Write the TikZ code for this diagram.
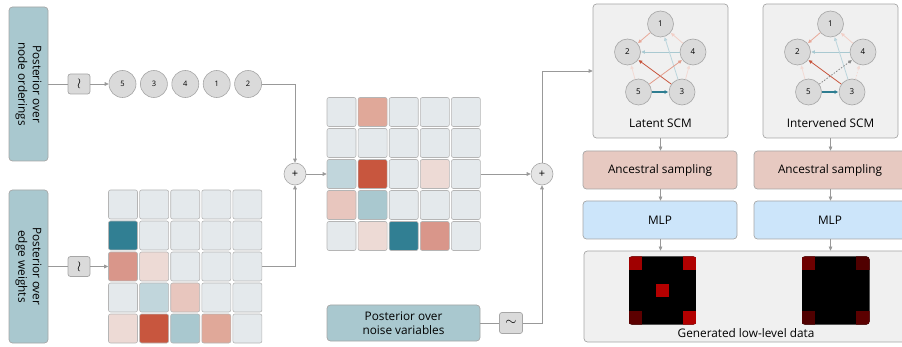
\documentclass[tikz,border=0pt]{standalone}
\usepackage{fontspec}
\setmainfont{Open Sans}
\usetikzlibrary{arrows.meta}
\definecolor{linec}{HTML}{999999}
\definecolor{boxb}{HTML}{A6A6A6}
\definecolor{postc}{HTML}{A9C8CF}
\definecolor{nodec}{HTML}{DADADA}
\definecolor{panelc}{HTML}{F0F0F0}
\definecolor{ancc}{HTML}{E7C9C1}
\definecolor{mlpc}{HTML}{CCE5FA}
\definecolor{cellb}{HTML}{B5B5B5}
\definecolor{cL}{HTML}{E4E9EC}
\definecolor{cT}{HTML}{317F93}
\definecolor{cS}{HTML}{D9968A}
\definecolor{cP}{HTML}{EDDAD5}
\definecolor{cB}{HTML}{C1D6DC}
\definecolor{cM}{HTML}{E8C6BE}
\definecolor{cR}{HTML}{C8563E}
\definecolor{cG}{HTML}{A9C8CF}
\definecolor{cQ}{HTML}{E0A899}
\definecolor{eA}{HTML}{E8A898}
\definecolor{eB}{HTML}{F2CFC7}
\definecolor{eC}{HTML}{A9C9D1}
\definecolor{eD}{HTML}{BBD5DC}
\definecolor{eE}{HTML}{C8553D}
\definecolor{eF}{HTML}{E29C8B}
\definecolor{eG}{HTML}{F3DAD4}
\definecolor{eH}{HTML}{2E7D91}
\definecolor{eI}{HTML}{888888}
\begin{document}
\begin{tikzpicture}[x=1pt,y=-1pt,
  conn/.style={draw=linec, line width=0.7pt},
  arr/.style={conn, -{Triangle[length=4pt,width=3.6pt]}},
  post/.style={draw=boxb, fill=postc, rounded corners=3.5pt, line width=0.7pt, inner sep=0pt},
  tbox/.style={draw=boxb, fill=nodec, rounded corners=2.5pt, line width=0.7pt, minimum width=22pt, minimum height=20pt, inner sep=0pt, font=\fontsize{14}{14}\selectfont},
  ordc/.style={circle, draw=boxb, fill=nodec, line width=0.6pt, minimum size=27pt, inner sep=0pt, font=\fontsize{7.5}{8}\selectfont},
  plusc/.style={circle, draw=boxb, fill=nodec!70!white, line width=0.6pt, minimum size=22pt, inner sep=0pt, font=\fontsize{11}{11}\selectfont},
  cell/.style={draw=cellb, line width=0.6pt, rounded corners=2pt, minimum size=29pt, inner sep=0pt},
  gnode/.style={circle, draw=boxb, fill=nodec, line width=0.6pt, minimum size=26pt, inner sep=0pt, font=\fontsize{8}{8}\selectfont},
  panel/.style={draw=boxb, fill=panelc, rounded corners=3.5pt, line width=0.7pt, inner sep=0pt},
  ged/.style={line width=0.8pt, -{Triangle[length=3.6pt,width=3.4pt]}, shorten >=0.5pt},
  lbl/.style={font=\fontsize{11.8}{14.5}\selectfont, align=center, inner sep=0pt},
]
\useasboundingbox (0,0) rectangle (902,347);

% ---- left posterior boxes
\node[post, minimum width=39pt, minimum height=154pt] (pno) at (28.5,84) {};
\node[lbl, rotate=-90] (pnot) at (pno.center) {Posterior over\\node orderings};
\node[post, minimum width=39pt, minimum height=153pt] (pew) at (28.5,266.5) {};
\node[lbl, rotate=-90] (pewt) at (pew.center) {Posterior over\\edge weights};

\node[tbox] (t1) at (79,84) {$\wr$};
\node[tbox] (t2) at (79,266.5) {$\wr$};

% ---- ordering circles
\foreach \n [count=\i] in {5,3,4,1,2}
  \node[ordc] (o\n) at ({122.5+31.4*(\i-1)},84) {\n};

\draw[conn] (pno) -- (t1);
\draw[arr] (t1) -- (o5);
\draw[conn] (pew) -- (t2);

% ---- matrices
\foreach \row [count=\r] in {{L,L,L,L,L},{T,L,L,L,L},{S,P,L,L,L},{L,B,M,L,L},{P,R,G,Q,L}}
  \foreach \c [count=\k] in \row
    \node[cell, fill=c\c] (ma-\r-\k) at ({123+31.1*(\k-1)},{204.5+31*(\r-1)}) {};
\foreach \row [count=\r] in {{L,Q,L,L,L},{L,L,L,L,L},{B,R,L,P,L},{M,G,L,L,L},{L,P,T,S,L}}
  \foreach \c [count=\k] in \row
    \node[cell, fill=c\c] (mb-\r-\k) at ({341.5+31.1*(\k-1)},{112+31*(\r-1)}) {};

\draw[arr] (t2) -- (ma-3-1);

\node[plusc] (p1) at (295,174) {+};
\node[plusc] (p2) at (542,174) {+};

\draw[arr] (o2.east) -| (p1.north);
\draw[arr] (ma-3-5.east) -| (p1.south);
\draw[arr] (p1) -- (mb-3-1);
\draw[arr] (mb-3-5) -- (p2);

% ---- noise
\node[post, minimum width=153pt, minimum height=36pt] (nv) at (403.5,323) {};
\node[lbl] (nvt) at (nv.center) {Posterior over\\noise variables};
\node[tbox, minimum width=23pt, minimum height=21pt] (t3) at (511,323) {$\sim$};
\draw[conn] (nv) -- (t3);
\draw[arr] (t3.east) -| (p2.south);

% ---- SCM panels
\node[panel, minimum width=135pt, minimum height=134pt] (lat) at (660.5,71) {};
\node[panel, minimum width=135pt, minimum height=134pt] (int) at (830.5,71) {};
\node[lbl] (latt) at (660.5,123) {Latent SCM};
\node[lbl] (intt) at (830.5,123) {Intervened SCM};
\draw[arr] (p2.north) |- (lat.west);

\foreach \g/\cx in {a/660.5, b/830.5} {
  \node[gnode] (\g1) at (\cx,24) {1};
  \node[gnode] (\g2) at (\cx-33,52) {2};
  \node[gnode] (\g4) at (\cx+32.5,52) {4};
  \node[gnode] (\g5) at (\cx-22,92) {5};
  \node[gnode] (\g3) at (\cx+21.5,92) {3};
  \draw[ged, eA] (\g1) -- (\g2);
  \draw[ged, eB] (\g4) -- (\g1);
  \draw[ged, eC] (\g4) -- (\g2);
  \draw[ged, eD] (\g3) -- (\g1);
  \draw[ged, eG] (\g5) -- (\g2);
  \draw[ged, eE] (\g3) -- (\g2);
  \draw[ged, eH, line width=1.3pt] (\g5) -- (\g3);
}
\draw[ged, eF] (a5) -- (a4);
\draw[ged, eG] (a3) -- (a4);
\draw[ged, eI, dash pattern=on 1.5pt off 1.5pt] (b5) -- (b4);
\draw[ged, eG, dash pattern=on 1.5pt off 1.5pt] (b3) -- (b4);

% ---- ancestral sampling & MLP
\node[panel, fill=ancc, minimum width=154pt, minimum height=38pt] (as1) at (660,170) {};
\node[panel, fill=ancc, minimum width=152pt, minimum height=38pt] (as2) at (830,170) {};
\node[lbl] (as1t) at (as1.center) {Ancestral sampling};
\node[lbl] (as2t) at (as2.center) {Ancestral sampling};
\node[panel, fill=mlpc, minimum width=154pt, minimum height=38pt] (ml1) at (660,220) {};
\node[panel, fill=mlpc, minimum width=152pt, minimum height=38pt] (ml2) at (830,220) {};
\node[lbl] (ml1t) at (ml1.center) {MLP};
\node[lbl] (ml2t) at (ml2.center) {MLP};

\node[panel, minimum width=324pt, minimum height=91pt] (gen) at (746,296.5) {};
\node[lbl] (gent) at (746,333.5) {Generated low-level data};

\draw[arr] (lat.south) -- (lat.south |- as1.north);
\draw[arr] (int.south) -- (int.south |- as2.north);
\draw[arr] (as1.south -| lat.south) -- (lat.south |- ml1.north);
\draw[arr] (as2.south -| int.south) -- (int.south |- ml2.north);
\draw[arr] (ml1.south -| lat.south) -- (lat.south |- gen.north);
\draw[arr] (ml2.south -| int.south) -- (int.south |- gen.north);

% ---- images
\begin{scope}
  \clip[rounded corners=3pt] (628.5,256.5) rectangle ++(68,68);
  \fill[black] (628.5,256.5) rectangle ++(68,68);
  \fill[fill={rgb,255:red,160;green,0;blue,0}] (628.5,256.5) rectangle ++(13.6,13.6);
  \fill[fill={rgb,255:red,176;green,0;blue,0}] (682.9,256.5) rectangle ++(13.6,13.6);
  \fill[fill={rgb,255:red,92;green,0;blue,0}] (628.5,310.9) rectangle ++(13.6,13.6);
  \fill[fill={rgb,255:red,178;green,0;blue,0}] (682.9,310.9) rectangle ++(13.6,13.6);
  \fill[fill={rgb,255:red,180;green,0;blue,0}] (655.7,283.7) rectangle ++(13.6,13.6);
\end{scope}
\begin{scope}
  \clip[rounded corners=3pt] (801.5,256.5) rectangle ++(68,68);
  \fill[black] (801.5,256.5) rectangle ++(68,68);
  \fill[fill={rgb,255:red,110;green,0;blue,0}] (801.5,256.5) rectangle ++(13.6,13.6);
  \fill[fill={rgb,255:red,80;green,0;blue,0}] (855.9,256.5) rectangle ++(13.6,13.6);
  \fill[fill={rgb,255:red,80;green,0;blue,0}] (801.5,310.9) rectangle ++(13.6,13.6);
  \fill[fill={rgb,255:red,92;green,0;blue,0}] (855.9,310.9) rectangle ++(13.6,13.6);
\end{scope}
\end{tikzpicture}
\end{document}
